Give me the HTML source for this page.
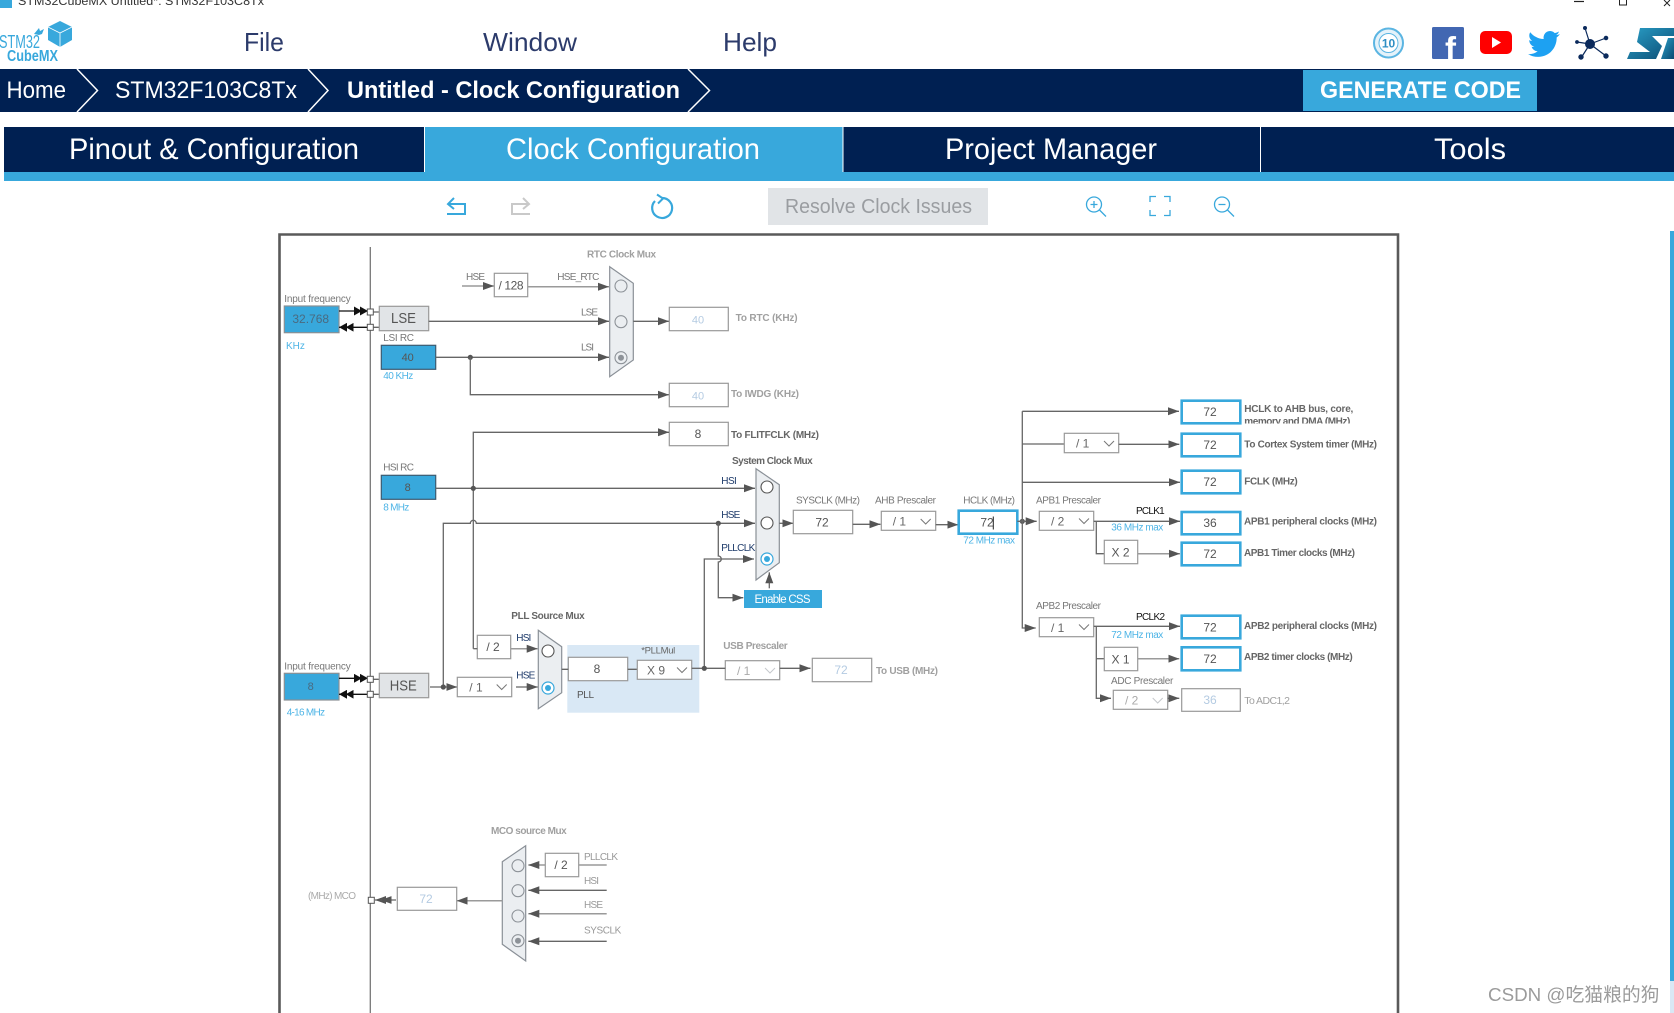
<!DOCTYPE html>
<html><head><meta charset="utf-8"><title>STM32CubeMX Clock Configuration</title>
<style>
html,body{margin:0;padding:0;background:#fff;width:1674px;height:1013px;overflow:hidden}
svg{display:block;font-family:"Liberation Sans","Noto Sans CJK SC",sans-serif}
.l{stroke:#666;stroke-width:1.3;fill:none}
.g{stroke:#9a9a9a;stroke-width:1.5;fill:none}
.k{stroke:#111;stroke-width:1.3;fill:none}
.b{fill:#fff;stroke:#999;stroke-width:1.2}
.bb{fill:#fff;stroke:#38a8dc;stroke-width:2.6}
.m{fill:#ebeef1;stroke:#8a9097;stroke-width:1.2}
.r{fill:#ebeef1;stroke:#8d9298;stroke-width:1.1}
.w{fill:#fff;stroke:#555;stroke-width:1.1}
.s{fill:#fff;stroke:#555;stroke-width:1}
.t{font-size:10px;fill:#777}
.d{font-size:10px;fill:#666;font-weight:bold}
.h{font-size:10px;fill:#a0a0a0;font-weight:bold}
.n{font-size:10px;fill:#1d3a6a}
.c{font-size:10px;fill:#4db4e6}
.v{font-size:12px;fill:#555;text-anchor:middle}
.f{font-size:12px;fill:#b4cbe2;text-anchor:middle}
.e{font-size:12px;fill:#666}
.q{fill:none;stroke:#777;stroke-width:1}
.u{fill:none;stroke:#38a8dc;stroke-width:2}
.x{fill:#fff;text-anchor:start}
</style></head><body>
<svg width="1674" height="1013" viewBox="0 0 1674 1013" xmlns="http://www.w3.org/2000/svg">
<defs>
<marker id="a" markerWidth="11" markerHeight="9" refX="11" refY="4.5" orient="auto" markerUnits="userSpaceOnUse"><path d="M0,0.5L11,4.5L0,8.5z" fill="#555"/></marker>
<marker id="k" markerWidth="8" markerHeight="9" refX="8" refY="4.5" orient="auto" markerUnits="userSpaceOnUse"><path d="M0,0L8,4.5L0,9z" fill="#111"/></marker>
<clipPath id="clip1"><rect x="1240" y="400" width="160" height="23.5"/></clipPath>
<linearGradient id="st" x1="0" y1="0" x2="1" y2="1"><stop offset="0" stop-color="#2aa0c8"/><stop offset="1" stop-color="#0b4a72"/></linearGradient>
</defs>

<!-- window title -->
<rect x="0" y="0" width="12" height="8" fill="#38a8dc"/>
<text x="18" y="5" font-size="11.5" fill="#333" textLength="246" lengthAdjust="spacingAndGlyphs">STM32CubeMX Untitled*: STM32F103C8Tx</text>
<path d="M1574,1.5H1584" stroke="#222" stroke-width="1.2"/>
<rect x="1619.5" y="-1" width="7" height="6" fill="none" stroke="#222"/>
<path d="M1664,0L1670,6M1670,0L1664,6" stroke="#222"/>

<!-- logo -->
<text x="-1" y="48" font-size="18" fill="#38a8dc" textLength="41" lengthAdjust="spacingAndGlyphs">STM32</text>
<text x="7" y="61" font-size="16" font-weight="bold" fill="#38a8dc" textLength="51" lengthAdjust="spacingAndGlyphs">CubeMX</text>
<path d="M48,27L60,21L72,27V40L60,47L48,40z" fill="#38a8dc"/>
<path d="M48,27L60,33L72,27M60,33V47" stroke="#fff" stroke-width=".8" fill="none"/>
<path d="M34,34l5,-6l1,3l4,-2l-2,5l-3,1z" fill="#38a8dc"/>

<!-- menu -->
<text x="244" y="51" font-size="26" fill="#2c3b6b" textLength="40" lengthAdjust="spacingAndGlyphs">File</text>
<text x="483" y="51" font-size="26" fill="#2c3b6b" textLength="94" lengthAdjust="spacingAndGlyphs">Window</text>
<text x="723" y="51" font-size="26" fill="#2c3b6b" textLength="54" lengthAdjust="spacingAndGlyphs">Help</text>

<!-- social icons -->
<circle cx="1388.5" cy="43" r="14.5" fill="#e4f2fa" stroke="#5bb5e2" stroke-width="2"/>
<circle cx="1388.5" cy="43" r="9.5" fill="#fff" stroke="#5bb5e2" stroke-width="1"/>
<text x="1388.5" y="47.5" font-size="12" font-weight="bold" fill="#2f8fc4" text-anchor="middle">10</text>
<rect x="1432" y="27" width="32" height="32" rx="1.5" fill="#4267b2"/>
<text x="1445" y="60" font-size="33" font-weight="bold" fill="#fff">f</text>
<rect x="1480" y="31" width="32" height="23" rx="5" fill="#f00"/>
<path d="M1492,37L1501,42.5L1492,48z" fill="#fff"/>
<g transform="translate(1528,28) scale(1.33)"><path fill="#1da1f2" d="M23.95 4.57a10 10 0 0 1-2.82.77 4.96 4.96 0 0 0 2.16-2.72c-.95.56-2 .96-3.12 1.19a4.92 4.92 0 0 0-8.38 4.48C7.69 8.1 4.07 6.13 1.64 3.16a4.82 4.82 0 0 0-.67 2.48c0 1.71.87 3.21 2.19 4.1a4.9 4.9 0 0 1-2.23-.62v.06c0 2.38 1.69 4.37 3.95 4.83a5 5 0 0 1-2.21.08 4.94 4.94 0 0 0 4.6 3.42A9.87 9.87 0 0 1 0 19.54a13.94 13.94 0 0 0 7.55 2.21c9.06 0 14-7.5 14-14 0-.21 0-.42-.01-.63A9.94 9.94 0 0 0 24 4.59z"/></g>
<g fill="#0b2a5c" stroke="#0b2a5c">
<path d="M1590,44L1585,28M1590,44L1606,38M1590,44L1606,56M1590,44L1581,58M1590,44L1577,42" stroke-width="1.2"/>
<circle cx="1590" cy="44" r="4.5"/><circle cx="1585" cy="28" r="1.5"/><circle cx="1606" cy="38" r="1.8"/><circle cx="1606" cy="56" r="2.2"/><circle cx="1581" cy="57" r="2.2"/><circle cx="1577" cy="42" r="1.4"/>
</g>
<path d="M1640,28H1674V36H1652L1662,46L1656,59H1627L1630,52H1650L1637,42z" fill="url(#st)"/>
<path d="M1668,38H1674V59H1661z" fill="url(#st)"/>

<!-- breadcrumb -->
<rect x="0" y="69" width="1674" height="43" fill="#002052"/>
<path d="M77,69L97.5,90.5L77,112M308,69L328,90.5L308,112M688,69L709.5,90.5L688,112" stroke="#fff" stroke-width="1.5" fill="none"/>
<text x="6.5" y="98" font-size="24" class="x" textLength="59.5" lengthAdjust="spacingAndGlyphs">Home</text>
<text x="115" y="98" font-size="24" class="x" textLength="182" lengthAdjust="spacingAndGlyphs">STM32F103C8Tx</text>
<text x="347" y="98" font-size="24" font-weight="bold" class="x" textLength="333" lengthAdjust="spacingAndGlyphs">Untitled - Clock Configuration</text>
<rect x="1303" y="70" width="234" height="41" fill="#38a8dc"/>
<text x="1320" y="98" font-size="24" font-weight="bold" class="x" textLength="201" lengthAdjust="spacingAndGlyphs">GENERATE CODE</text>

<!-- tabs -->
<rect x="4" y="127" width="1670" height="45" fill="#002052"/>
<rect x="4" y="172" width="1670" height="9" fill="#38a8dc"/>
<rect x="424" y="127" width="419" height="45" fill="#38a8dc"/>
<path d="M424.5,127V172M843,127V172M1260.5,127V172" stroke="#fff" stroke-width="1"/>
<text x="69" y="159" font-size="30" class="x" textLength="290" lengthAdjust="spacingAndGlyphs">Pinout &amp; Configuration</text>
<text x="506" y="159" font-size="30" class="x" textLength="254" lengthAdjust="spacingAndGlyphs">Clock Configuration</text>
<text x="945" y="159" font-size="30" class="x" textLength="212" lengthAdjust="spacingAndGlyphs">Project Manager</text>
<text x="1434" y="159" font-size="30" class="x" textLength="72" lengthAdjust="spacingAndGlyphs">Tools</text>

<!-- toolbar -->
<path d="M447,214H465V204H449M454,198L448,204L454,209" fill="none" stroke="#38a8dc" stroke-width="2"/>
<path d="M530,214H512V204H528M523,198L529,204L523,209" fill="none" stroke="#c9c9c9" stroke-width="2"/>
<path d="M655,201A10,10 0 1 0 662,198" fill="none" stroke="#38a8dc" stroke-width="2.2"/>
<path d="M657,194.5L663,198.5L658,203.5" fill="none" stroke="#38a8dc" stroke-width="2"/>
<rect x="768" y="188" width="220" height="37" fill="#e1e4e7"/>
<text x="785" y="213" font-size="20" fill="#9a9da1" textLength="187" lengthAdjust="spacingAndGlyphs">Resolve Clock Issues</text>
<g fill="none" stroke="#38a8dc" stroke-width="1.3">
<circle cx="1094" cy="204.5" r="7.5"/><path d="M1099.5,210L1106,216.5M1090.5,204.5H1097.5M1094,201V208"/>
<path d="M1150,202V196.5H1156M1164,196.5H1170V202M1170,210V215.5H1164M1156,215.5H1150V210"/>
<circle cx="1222" cy="204.5" r="7.5"/><path d="M1227.5,210L1234,216.5M1218.5,204.5H1225.5"/>
</g>

<!-- scrollbar -->
<rect x="1670" y="231" width="4" height="750" fill="#38a8dc"/>
<rect x="1670" y="981" width="4" height="32" fill="#d9e8f5"/>

<!-- diagram frame -->
<path d="M279.5,1013V234.5H1398V1013" fill="none" stroke="#5a5a5a" stroke-width="2.6"/>
<path d="M370.3,247V1013" stroke="#777" stroke-width="1.3"/>

<!-- RTC section -->
<text x="587" y="257.5" class="h" textLength="69">RTC Clock Mux</text>
<text x="466" y="280" class="t" textLength="19">HSE</text>
<path class="g" d="M462,286H494" marker-end="url(#a)"/>
<rect class="b" x="494.3" y="273.3" width="33.4" height="23.4"/>
<text x="511" y="289.5" class="v" fill="#444" textLength="25">/ 128</text>
<text x="557.3" y="280" class="t" textLength="42">HSE_RTC</text>
<path class="g" d="M527.7,286.7H609" marker-end="url(#a)"/>
<polygon class="m" points="609.7,266.7 633.3,283.3 633.3,360 609.7,376.7"/>
<circle class="r" cx="621" cy="286" r="6"/><circle class="r" cx="621" cy="321.7" r="6"/><circle class="r" cx="621" cy="357.7" r="6"/><circle cx="621" cy="357.7" r="3" fill="#8d9298"/>

<text x="284.3" y="302" class="t" textLength="66.4">Input frequency</text>
<rect x="284.3" y="306" width="54.7" height="26.7" fill="#38a8dc" stroke="#8a8f94" stroke-width="1.2"/>
<text x="310.7" y="323" class="v" style="fill:#4a6a80">32.768</text>
<text x="286" y="349" class="c">KHz</text>
<path class="k" d="M339,311H362" marker-end="url(#k)"/><path class="k" d="M356,311H368" marker-end="url(#k)"/>
<path class="k" d="M367,327.3H345.7" marker-end="url(#k)"/><path class="k" d="M350,327.3H339" marker-end="url(#k)"/>
<rect class="s" x="367.3" y="309" width="6" height="6"/><rect class="s" x="367.3" y="324.3" width="6" height="6"/>
<path class="l" d="M373.3,312H379.3M373.3,327.3H379.3"/>
<rect x="379.3" y="306.3" width="49.4" height="24.4" fill="#e1e4e7" stroke="#999" stroke-width="1.2"/>
<text x="403.5" y="323" font-size="15" fill="#555" text-anchor="middle" textLength="25" lengthAdjust="spacingAndGlyphs">LSE</text>
<text x="581" y="315.7" class="t" textLength="17">LSE</text>
<path class="l" d="M428.7,321.3H609" marker-end="url(#a)"/>
<path class="l" d="M633.3,321.3H669" marker-end="url(#a)"/>
<rect class="b" x="669.3" y="307.3" width="59" height="23.4"/>
<text x="698" y="323.5" class="f" style="font-size:11px">40</text>
<text x="735.6" y="321" class="h" textLength="62">To RTC (KHz)</text>

<text x="383.3" y="341" class="t" textLength="30.7">LSI RC</text>
<rect x="381.3" y="345.3" width="54.4" height="24" fill="#38a8dc" stroke="#3c5a70" stroke-width="1.2"/>
<text x="407.7" y="361" class="v" style="font-size:11px">40</text>
<text x="383.3" y="379" class="c" textLength="30">40 KHz</text>
<path class="l" d="M435.7,357.3H609" marker-end="url(#a)"/>
<circle cx="470.3" cy="357.3" r="2.6" fill="#555"/>
<text x="581" y="350.7" class="t" textLength="13">LSI</text>
<path class="l" d="M470.3,357.3V394.7H669" marker-end="url(#a)"/>
<rect class="b" x="669.3" y="383.3" width="59" height="23.4"/>
<text x="698" y="399.5" class="f" style="font-size:11px">40</text>
<text x="731" y="397" class="h" textLength="68">To IWDG (KHz)</text>

<rect class="b" x="669.3" y="422.3" width="59" height="23.4"/>
<text x="698" y="438" class="v">8</text>
<text x="731" y="438" class="d" textLength="88">To FLITFCLK (MHz)</text>
<path class="l" d="M473.3,648.7V432.3H669" marker-end="url(#a)"/>

<text x="383.3" y="470.7" class="t" textLength="30.7">HSI RC</text>
<rect x="381.3" y="475.3" width="54.4" height="24" fill="#38a8dc" stroke="#3c5a70" stroke-width="1.2"/>
<text x="407.7" y="491" class="v" style="font-size:11px">8</text>
<text x="383.3" y="510.7" class="c" textLength="26">8 MHz</text>
<path class="l" d="M435.7,488.3H755" marker-end="url(#a)"/>
<circle cx="473.3" cy="488.3" r="2.6" fill="#555"/>

<!-- System clock mux -->
<text x="732" y="464" class="d" textLength="80.7">System Clock Mux</text>
<polygon class="m" points="756,468.7 779.3,484.7 779.3,562.7 756,580"/>
<circle class="w" cx="767" cy="487" r="6"/><circle class="w" cx="767" cy="523" r="6"/>
<circle cx="767" cy="559" r="6" fill="#fff" stroke="#38a8dc" stroke-width="1.2"/><circle cx="767" cy="559" r="3" fill="#38a8dc"/>
<text x="721.3" y="484" class="n" textLength="15.5">HSI</text>
<text x="721.3" y="518" class="n" textLength="19">HSE</text>
<text x="721.3" y="551" class="n" textLength="34">PLLCLK</text>
<path class="l" d="M443.3,687V523.3H470.3a3,3 0 0 1 6,0H755" marker-end="url(#a)"/>
<circle cx="718.3" cy="523.3" r="2.6" fill="#555"/>
<path class="l" d="M718.3,523.3V556a2.8,2.8 0 0 1 0,6V597.7H743.3" marker-end="url(#a)"/>
<path class="l" d="M704.3,668.3V559H754" marker-end="url(#a)"/>
<rect x="744" y="590" width="78" height="18" fill="#38a8dc"/>
<text x="754.5" y="603" font-size="11.5" fill="#fff" textLength="56">Enable CSS</text>
<path class="l" d="M769.3,588.3V572.3" marker-end="url(#a)"/>
<path class="l" d="M779.3,523.3H793.3" marker-end="url(#a)"/>
<text x="796" y="503.3" class="t" textLength="64">SYSCLK (MHz)</text>
<rect class="b" x="793.3" y="510.3" width="59.4" height="23.4"/>
<text x="822" y="526.5" class="v">72</text>
<path class="l" d="M852.7,524.3H880.5" marker-end="url(#a)"/>
<text x="875" y="503.3" class="t" textLength="61">AHB Prescaler</text>
<rect class="b" x="881.3" y="511.3" width="54.4" height="19"/>
<text x="892.7" y="525.5" class="e">/ 1</text><path class="q" d="M920.7,519l5,5l5,-5"/>
<path class="l" d="M935.7,524.7H958.3" marker-end="url(#a)"/>
<text x="963.3" y="503.3" class="t" textLength="51.7">HCLK (MHz)</text>
<rect class="bb" x="958.7" y="510.7" width="58.6" height="23"/>
<text x="987" y="526.5" class="v">72</text>
<path d="M993.3,516.5V529.5" stroke="#222" stroke-width="1"/>
<text x="963.3" y="543.7" class="c" textLength="51.7">72 MHz max</text>
<circle cx="1022.3" cy="521.3" r="2.6" fill="#555"/>
<path class="l" d="M1017.3,521.3H1036.7" marker-end="url(#a)"/>

<!-- right tree -->
<path class="l" d="M1022.3,411.3V628H1035.7" marker-end="url(#a)"/>
<path class="l" d="M1022.3,411.3H1179" marker-end="url(#a)"/>
<rect class="bb" x="1181.7" y="400.7" width="58.6" height="22.6"/>
<text x="1210" y="416" class="v">72</text>
<text x="1244.3" y="412" class="d" textLength="109">HCLK to AHB bus, core,</text>
<text x="1244.3" y="424.3" class="d" textLength="106" clip-path="url(#clip1)">memory and DMA (MHz)</text>

<path class="l" d="M1022.3,444H1064.3"/>
<rect class="b" x="1064.3" y="433.3" width="54.4" height="19.4"/>
<text x="1076" y="447.5" class="e">/ 1</text><path class="q" d="M1104,441l5,5l5,-5"/>
<path class="l" d="M1118.7,444.3H1179.3" marker-end="url(#a)"/>
<rect class="bb" x="1181.7" y="433.7" width="58.6" height="22.6"/>
<text x="1210" y="449" class="v">72</text>
<text x="1244.3" y="447.5" class="d" textLength="132.7">To Cortex System timer (MHz)</text>

<path class="l" d="M1022.3,482.3H1180" marker-end="url(#a)"/>
<rect class="bb" x="1181.7" y="470.7" width="58.6" height="22.6"/>
<text x="1210" y="486" class="v">72</text>
<text x="1244.3" y="484.3" class="d" textLength="53.4">FCLK (MHz)</text>

<text x="1036" y="503.3" class="t" textLength="65">APB1 Prescaler</text>
<rect class="b" x="1039.3" y="511.3" width="54.4" height="19"/>
<text x="1051" y="525.5" class="e">/ 2</text><path class="q" d="M1079,518.5l5,5l5,-5"/>
<path class="l" d="M1093.7,521.3H1180" marker-end="url(#a)"/>
<text x="1136" y="514" font-size="10" fill="#111" textLength="28.7">PCLK1</text>
<text x="1111.3" y="530.7" class="c" textLength="52">36 MHz max</text>
<rect class="bb" x="1181.7" y="512" width="58.6" height="22.3"/>
<text x="1210" y="527" class="v">36</text>
<text x="1244" y="524.3" class="d" textLength="133">APB1 peripheral clocks (MHz)</text>
<path class="l" d="M1096.3,521.3V553.7H1104.3"/>
<rect class="b" x="1104.3" y="540.3" width="33.4" height="23.4"/>
<text x="1120.5" y="556.5" class="v">X 2</text>
<path class="g" d="M1137.7,553.7H1180" marker-end="url(#a)"/>
<rect class="bb" x="1181.7" y="542.7" width="58.6" height="22.6"/>
<text x="1210" y="558" class="v">72</text>
<text x="1244" y="556" class="d" textLength="111">APB1 Timer clocks (MHz)</text>

<text x="1036" y="609" class="t" textLength="65">APB2 Prescaler</text>
<rect class="b" x="1039.3" y="617.7" width="54.4" height="19"/>
<text x="1051" y="632" class="e">/ 1</text><path class="q" d="M1079,624.5l5,5l5,-5"/>
<path class="l" d="M1093.7,626.3H1180" marker-end="url(#a)"/>
<text x="1136" y="620" font-size="10" fill="#111" textLength="29">PCLK2</text>
<text x="1111.3" y="638" class="c" textLength="52">72 MHz max</text>
<rect class="bb" x="1181.7" y="615.7" width="58.6" height="22.6"/>
<text x="1210" y="631.5" class="v">72</text>
<text x="1244" y="629" class="d" textLength="133">APB2 peripheral clocks (MHz)</text>
<path class="l" d="M1096.3,626.3V698.3H1111" marker-end="url(#a)"/>
<path class="l" d="M1096.3,658.7H1104.3"/>
<rect class="b" x="1104.3" y="647.3" width="33.4" height="23.4"/>
<text x="1120.5" y="663.5" class="v">X 1</text>
<path class="g" d="M1137.7,658.7H1179.3" marker-end="url(#a)"/>
<rect class="bb" x="1181.7" y="647.3" width="58.6" height="23"/>
<text x="1210" y="663" class="v">72</text>
<text x="1244" y="660" class="d" textLength="108.7">APB2 timer clocks (MHz)</text>
<text x="1111" y="684" class="t" textLength="62.3">ADC Prescaler</text>
<rect class="b" x="1113.3" y="690.3" width="54.4" height="19"/>
<text x="1125" y="704.5" class="e" style="fill:#aaa">/ 2</text><path d="M1152.7,698l5,5l5,-5" fill="none" stroke="#c5c8cc"/>
<path class="l" d="M1167.7,698.3H1179.3" marker-end="url(#a)"/>
<rect class="b" x="1181.7" y="688.7" width="58.6" height="22.6"/>
<text x="1210" y="704" class="f">36</text>
<text x="1244.3" y="704" class="h" style="font-weight:normal;font-size:10.5px" textLength="45.7">To ADC1,2</text>

<!-- USB -->
<text x="723.3" y="649" class="h" textLength="64.4">USB Prescaler</text>
<rect class="b" x="725.3" y="660.7" width="54.4" height="19"/>
<text x="737" y="675" class="e" style="fill:#aaa">/ 1</text><path d="M765,668l5,5l5,-5" fill="none" stroke="#c5c8cc"/>
<path class="l" d="M704.3,668.3H725.3"/>
<path class="l" d="M779.7,668.3H810.5" marker-end="url(#a)"/>
<rect class="b" x="812.3" y="658.3" width="59.4" height="23.4"/>
<text x="841" y="674" class="f">72</text>
<text x="876" y="674" class="h" textLength="62">To USB (MHz)</text>

<!-- PLL -->
<rect x="567.3" y="645" width="132" height="67.7" fill="#d9e8f5"/>
<text x="511.3" y="619" class="d" textLength="73.4">PLL Source Mux</text>
<rect class="b" x="477.3" y="635.3" width="33.4" height="23.4"/>
<text x="493" y="651" class="v">/ 2</text>
<path class="l" d="M473.3,648.7H477.3"/>
<path class="g" d="M510.7,648.7H537.7" marker-end="url(#a)"/>
<text x="516.3" y="641" class="n" textLength="15">HSI</text>
<text x="516.3" y="678.5" class="n" textLength="19">HSE</text>
<polygon class="m" points="538.3,630.3 561.7,646.7 561.7,692.7 538.3,708.7"/>
<circle class="w" cx="548" cy="651" r="6"/>
<circle cx="548" cy="688" r="6" fill="#fff" stroke="#38a8dc" stroke-width="1.2"/><circle cx="548" cy="688" r="3" fill="#38a8dc"/>

<text x="284.3" y="669.3" class="t" textLength="66.4">Input frequency</text>
<rect x="284.3" y="673.3" width="54.7" height="26.7" fill="#38a8dc" stroke="#8a8f94" stroke-width="1.2"/>
<text x="310.7" y="690" class="v" style="font-size:11px;fill:#4a6a80">8</text>
<text x="286.7" y="715.5" class="c" textLength="38.3">4-16 MHz</text>
<path class="k" d="M339,678.3H362" marker-end="url(#k)"/><path class="k" d="M356,678.3H368" marker-end="url(#k)"/>
<path class="k" d="M367,694.3H345.7" marker-end="url(#k)"/><path class="k" d="M350,694.3H339" marker-end="url(#k)"/>
<rect class="s" x="367.3" y="676.3" width="6" height="6"/><rect class="s" x="367.3" y="691.3" width="6" height="6"/>
<path class="l" d="M373.3,679.3H379.3M373.3,694.3H379.3"/>
<rect x="379.3" y="673.3" width="49.4" height="24.4" fill="#e1e4e7" stroke="#999" stroke-width="1.2"/>
<text x="403.3" y="690.5" font-size="15" fill="#555" text-anchor="middle" textLength="27" lengthAdjust="spacingAndGlyphs">HSE</text>
<path class="l" d="M430,687H457.3" marker-end="url(#a)"/>
<circle cx="443.3" cy="687" r="2.6" fill="#555"/>
<rect class="b" x="457.3" y="677.3" width="54.4" height="19.4"/>
<text x="469.3" y="691.5" class="e">/ 1</text><path class="q" d="M496.7,684.5l5,5l5,-5"/>
<path class="l" d="M516,687H537.7" marker-end="url(#a)"/>
<text x="641.3" y="653.5" font-size="9.5" fill="#666" textLength="34">*PLLMul</text>
<text x="577" y="698" class="t" style="fill:#555" textLength="17">PLL</text>
<rect class="b" x="568.3" y="657.3" width="59.4" height="23.4"/>
<text x="597" y="673" class="v">8</text>
<path class="l" d="M561.7,669.3H568.3M627.7,669.3H637.3"/>
<rect class="b" x="637.3" y="660.3" width="54.4" height="19"/>
<text x="647" y="674.5" class="e">X 9</text><path class="q" d="M677,667.5l5,5l5,-5"/>
<path class="l" d="M691.7,668.3H704.3"/>
<circle cx="704.3" cy="668.3" r="2.6" fill="#555"/>

<!-- MCO -->
<text x="491" y="834" class="h" textLength="75.7">MCO source Mux</text>
<polygon class="m" points="525.7,845.7 502.3,861.7 502.3,944.3 525.7,961"/>
<circle class="r" cx="518" cy="865.7" r="6"/><circle class="r" cx="518" cy="890.7" r="6"/><circle class="r" cx="518" cy="916" r="6"/><circle class="r" cx="518" cy="940.7" r="6"/><circle cx="518" cy="940.7" r="3" fill="#8d9298"/>
<rect class="b" x="545.3" y="853.3" width="33.4" height="23.4"/>
<text x="561" y="869" class="v" fill="#444">/ 2</text>
<path class="g" d="M545.3,865H528.3" marker-end="url(#a)"/>
<path class="g" d="M578.7,865H606.7"/>
<text x="584" y="860" class="t" style="fill:#999" textLength="34">PLLCLK</text>
<text x="584" y="884" class="t" style="fill:#999" textLength="15">HSI</text>
<path class="l" d="M606.7,890.3H528.3" marker-end="url(#a)"/>
<text x="584" y="908" class="t" style="fill:#999" textLength="19">HSE</text>
<path class="g" d="M606.7,913.7H528.3" marker-end="url(#a)"/>
<text x="584" y="933.5" class="t" style="fill:#999" textLength="37.3">SYSCLK</text>
<path class="l" d="M606.7,941.3H528.3" marker-end="url(#a)"/>
<path class="g" d="M502.3,900.7H456.7" marker-end="url(#a)"/>
<rect class="b" x="397.3" y="887.3" width="59.4" height="23"/>
<text x="426" y="903" class="f">72</text>
<path class="l" d="M396,900H375" marker-end="url(#a)"/>
<path class="l" d="M386,900H380.7" marker-end="url(#a)"/>
<rect class="s" x="368.3" y="897.3" width="6" height="6"/>
<text x="308" y="899" class="t" style="fill:#aaa" textLength="48">(MHz) MCO</text>

<!-- watermark -->
<text x="1488" y="1001" font-size="18.8" fill="#9b9b9b">CSDN @吃猫粮的狗</text>
</svg>
</body></html>
